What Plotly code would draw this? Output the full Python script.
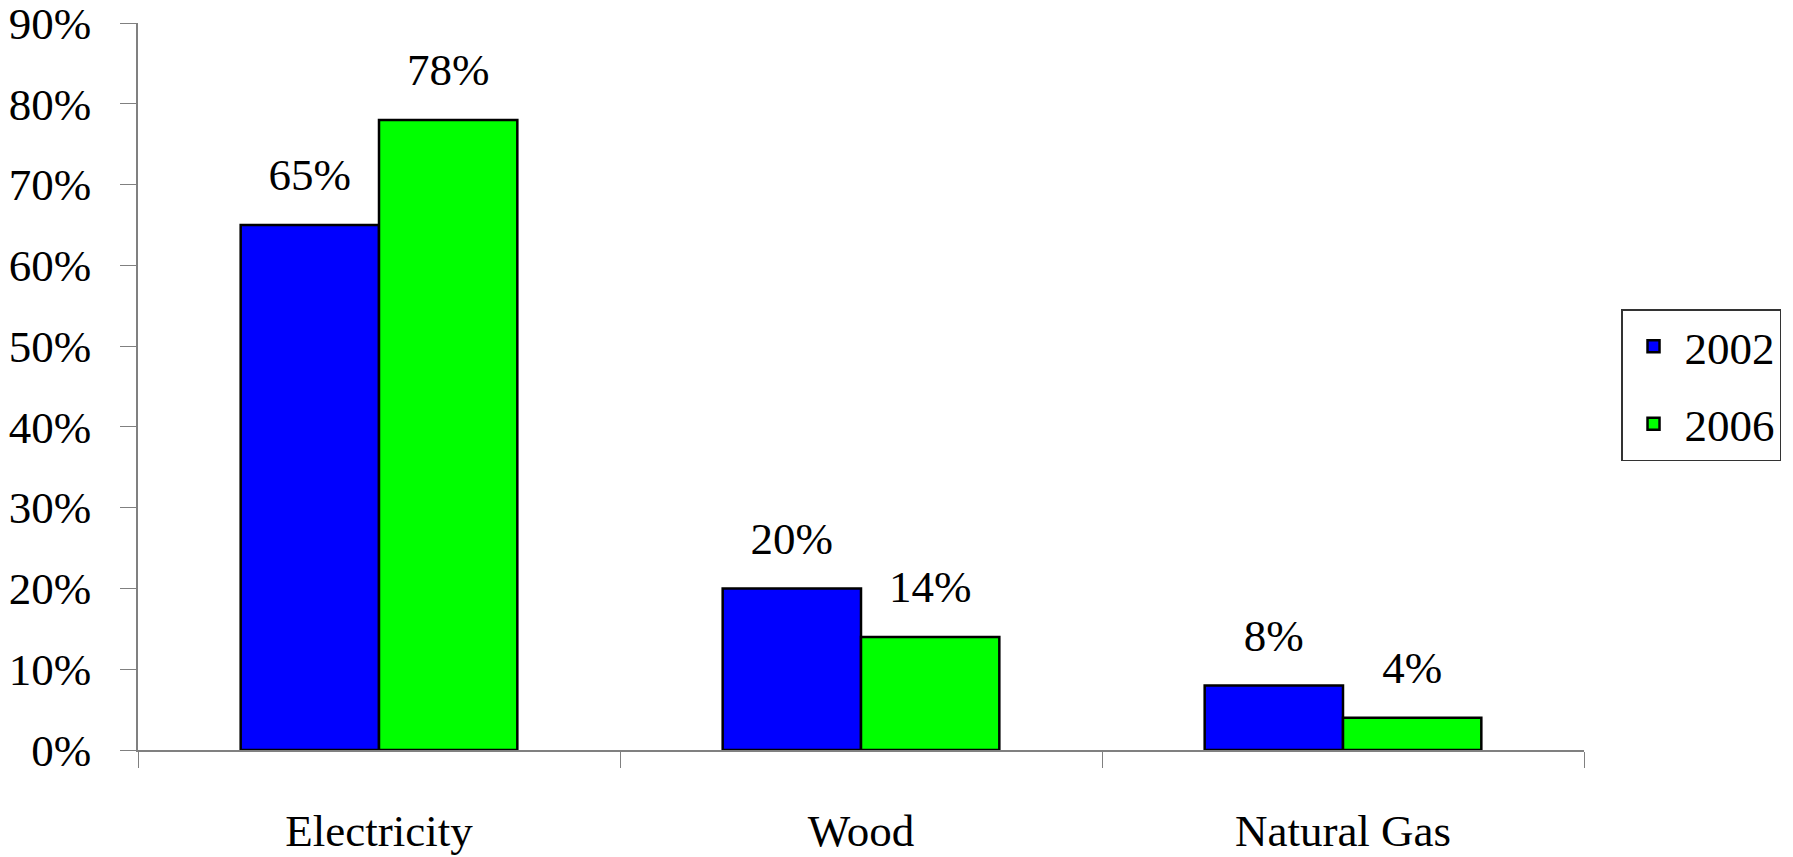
import plotly.graph_objects as go

# heating fuel shares by survey year
categories = ["Electricity", "Wood", "Natural Gas"]
years = ["2002", "2006"]
share_2002 = [0.65, 0.20, 0.08]
share_2006 = [0.78, 0.14, 0.04]
y_ticks = [0.0, 0.1, 0.2, 0.3, 0.4, 0.5, 0.6, 0.7, 0.8, 0.9]

COLORS = ["#0000ff", "#00ff00"]
SERIF = "Times New Roman"
SIZE = 45


def font():
    return dict(family=SERIF, size=SIZE, color="black")


fig = go.Figure()

for year, shares, color in zip(years, [share_2002, share_2006], COLORS):
    fig.add_trace(go.Bar(
        name=year, x=categories, y=shares,
        marker=dict(color=color, line=dict(color="black", width=2.5)),
        legendgroup=year, offsetgroup=year,
    ))

# value labels sit a bit higher above the bars than plotly's outside text would
for year, shares in zip(years, [share_2002, share_2006]):
    fig.add_trace(go.Scatter(
        x=categories, y=shares,
        mode="markers+text",
        text=[f"{v:.0%}" for v in shares],
        textposition="top center",
        textfont=font(),
        marker=dict(size=36, opacity=0),
        offsetgroup=year,
        showlegend=False, hoverinfo="skip", cliponaxis=False,
    ))

# the page body adds an 8px margin, so the figure is 8px smaller each way
fig.update_layout(
    template="none",
    width=1785, height=849,
    margin=dict(l=130, r=206, t=15, b=107),
    paper_bgcolor="white", plot_bgcolor="white",
    font=font(),
    barmode="group", bargap=0.426, bargroupgap=0,
    scattermode="group",
    legend=dict(
        x=1.0256, y=0.6066, xanchor="left", yanchor="top",
        bordercolor="#333333", borderwidth=1.5,
        font=font(), traceorder="grouped", tracegroupgap=16,
        itemwidth=52,
    ),
)

fig.update_xaxes(
    type="category", showline=True, linecolor="#808080", linewidth=1.5,
    ticks="outside", tickson="boundaries", ticklen=16, tickcolor="#808080",
    showgrid=False, ticklabelstandoff=40, automargin=False,
    tickfont=font(),
)
fig.update_yaxes(
    range=[0, 0.9], tickvals=y_ticks, tickformat=".0%",
    showline=True, linecolor="#808080", linewidth=1.5,
    ticks="outside", ticklen=16, tickcolor="#808080",
    showgrid=False, zeroline=False, ticklabelstandoff=20, automargin=False,
    ticklabeloverflow="allow", tickfont=font(),
)

fig.write_html("out.html")
